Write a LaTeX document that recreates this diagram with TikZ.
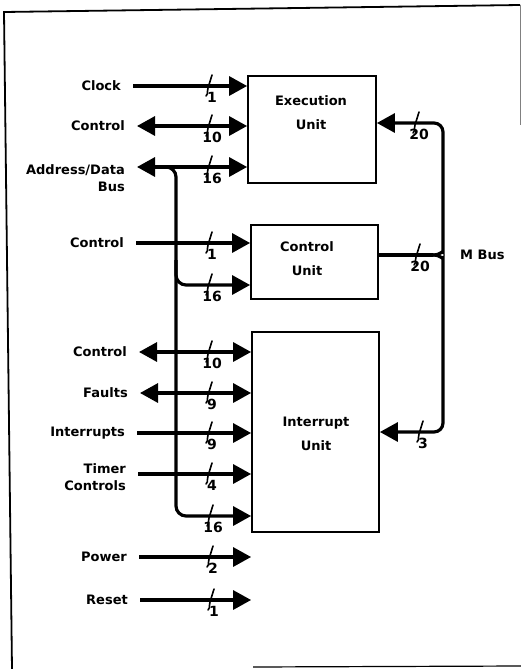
\documentclass[tikz,border=0pt]{standalone}
\usepackage{fontspec}
\setmainfont{DejaVu Sans}
\usetikzlibrary{arrows.meta,positioning}
\tikzset{
  pics/buswidth/.style={code={
    \draw[line width=1.6pt,line cap=round] (3,-11) -- (-1,2) .. controls (-3,5) and (0,7) .. (-3,10);
    \node[numlbl] (-n) at (3,6) {#1};
  }}
}
\begin{document}
\begin{tikzpicture}[x=1pt,y=-1pt,>={Triangle[length=18pt,width=19pt]},
    unit/.style={draw,line width=1.8pt,inner sep=0pt},
    utext/.style={align=center,font=\fontsize{13}{24}\selectfont\bfseries},
    lbl/.style={anchor=east,align=right,inner xsep=12pt,inner ysep=1pt,font=\fontsize{13}{17}\selectfont\bfseries},
    numlbl/.style={anchor=north,inner sep=0pt,font=\fontsize{14}{16}\selectfont\bfseries},
    wire/.style={line width=3.2pt},
    sigin/.style={wire,->},
    sigio/.style={wire,<->}]
  \useasboundingbox (0,0) rectangle (521,669);
  \draw[line width=1.8pt] (520,5) -- (4,12) -- (12,669);
  \draw[line width=1pt,gray] (520,5) -- (520,125);
  \draw[line width=1.2pt] (253,667) -- (521,666);

  \node[unit,minimum width=128pt,minimum height=107pt] (eu) at (312,129.5) {};
  \node[unit,minimum width=127pt,minimum height=74pt] (cu) at (314.5,262) {};
  \node[unit,minimum width=127pt,minimum height=200pt] (iu) at (315.5,432) {};
  \node[utext] (eutext) at (311,113) {Execution\\Unit};
  \node[utext] (cutext) at (307,258.5) {Control\\Unit};
  \node[utext] (iutext) at (316,434) {Interrupt\\Unit};

  \node[lbl] (lclock) at (133,86) {Clock};
  \node[lbl] (lctrla) at (137,126) {Control};
  \node[lbl] (laddr) at (137,178) {Address/Data\\Bus};
  \node[lbl] (lctrlb) at (136,243) {Control};
  \node[lbl] (lctrlc) at (139,352) {Control};
  \node[lbl] (lfaults) at (140,393) {Faults};
  \node[lbl] (lints) at (137,433) {Interrupts};
  \node[lbl] (ltimer) at (138,477) {Timer\\Controls};
  \node[lbl] (lpower) at (139,557) {Power};
  \node[lbl] (lreset) at (140,600) {Reset};

  \draw[sigin] (lclock) -- (lclock -| eu.west);
  \draw[sigio] (lctrla) -- (lctrla -| eu.west);
  \draw[sigio] ([yshift=11pt]laddr.east) -- ([yshift=11pt]laddr.east -| eu.west);
  \draw[sigin] (lctrlb) -- (lctrlb -| cu.west);
  \draw[sigio] (lctrlc) -- (lctrlc -| iu.west);
  \draw[sigio] (lfaults) -- (lfaults -| iu.west);
  \draw[sigin] (lints) -- (lints -| iu.west);
  \draw[sigin] ([yshift=3pt]ltimer.east) -- ([yshift=3pt]ltimer.east -| iu.west);
  \draw[sigin] (lpower) -- (lpower -| iu.west);
  \draw[sigin] (lreset) -- (lreset -| iu.west);

  \coordinate (bus) at (176,167);
  \coordinate (cu-bus) at (cu.west |- 0,285);
  \coordinate (iu-bus) at (iu.west |- 0,516);
  \draw[sigin,rounded corners=10pt] ([xshift=-25pt]bus) -- (bus) -- (bus |- iu-bus) -- (iu-bus);
  \draw[sigin,rounded corners=10pt] ([yshift=25pt]bus |- cu-bus) -- (bus |- cu-bus) -- (cu-bus);

  \coordinate (mj) at (433,255);
  \coordinate (mx) at (443,255);
  \coordinate (eu-m) at (eu.east |- 0,123);
  \coordinate (iu-m) at (iu.east |- 0,432);
  \draw[wire] (cu.east |- mj) -- (mj);
  \draw[sigin,rounded corners=9pt] (mj) .. controls ([xshift=8pt]mj) and ([yshift=5pt]mx) .. ([yshift=12pt]mx) -- (mx |- eu-m) -- (eu-m);
  \draw[sigin,rounded corners=9pt] (mj) .. controls ([xshift=8pt]mj) and ([yshift=-5pt]mx) .. ([yshift=-12pt]mx) -- (mx |- iu-m) -- (iu-m);
  \node[lbl,right=17pt of mx,inner xsep=0pt] (mbus) {M Bus};

  \pic (wclock) at (209,86) {buswidth=1};
  \pic (wctrla) at (209,126) {buswidth=10};
  \pic (waddr) at (209,167) {buswidth=16};
  \pic (wctrlb) at (209,243) {buswidth=1};
  \pic (wcubus) at (209,285) {buswidth=16};
  \pic (wctrlc) at (209,352) {buswidth=10};
  \pic (wfaults) at (209,393) {buswidth=9};
  \pic (wints) at (209,433) {buswidth=9};
  \pic (wtimer) at (209,474) {buswidth=4};
  \pic (wiubus) at (210,516) {buswidth=16};
  \pic (wpower) at (210,557) {buswidth=2};
  \pic (wreset) at (211,600) {buswidth=1};
  \pic (weu) at (416,123) {buswidth=20};
  \pic (wcu) at (417,255) {buswidth=20};
  \pic (wiu) at (420,432) {buswidth=3};
\end{tikzpicture}
\end{document}
